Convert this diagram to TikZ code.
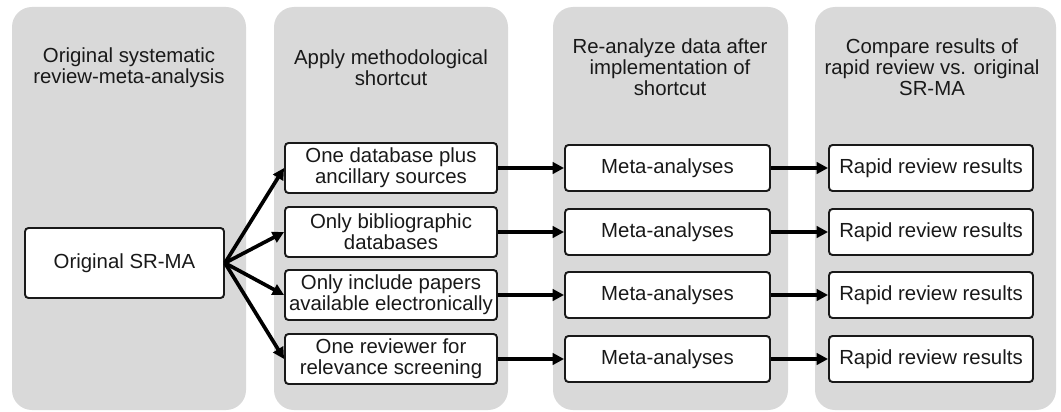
\documentclass[tikz,border=0pt]{standalone}
\usepackage{fontspec}
\setmainfont{Liberation Sans}
\usetikzlibrary{arrows.meta,positioning}
\definecolor{panelgray}{HTML}{D9D9D9}

\begin{document}
\begin{tikzpicture}[x=0.02cm, y=-0.02cm,
	panel/.style={fill=panelgray, draw=none, rounded corners=0.4cm},
	head/.style={align=center, font=\fontsize{11.6}{11.8}\selectfont, text=black!90},
	box/.style={draw=black!90, line width=1.1pt, fill=white, rounded corners=2pt,
		align=center, inner sep=0pt, font=\fontsize{11.6}{11.8}\selectfont, text=black!90},
	short/.style={box, minimum width=4.24cm, minimum height=1cm},
	meta/.style={box, minimum width=4.1cm, minimum height=0.92cm},
	arr/.style={line width=2.1pt, -{Triangle[length=6.5pt,width=6.5pt]}}]
	\useasboundingbox (0,0) rectangle (1061,412);
	% background panels
	\fill[panel] (12,7) rectangle (246,410);
	\fill[panel] (274,7) rectangle (508,410);
	\fill[panel] (553,7) rectangle (788,410);
	\fill[panel] (815,7) rectangle (1056,410);
	% headings
	\node[head] (h1) at (129,68) {Original systematic\\review-meta-analysis};
	\node[head] (h2) at (391,68) {Apply methodological\\shortcut};
	\node[head] (h3) at (670,67) {Re-analyze data after\\implementation of\\shortcut};
	\node[head] (h4) at (932,67) {Compare results of\\rapid review vs. original\\SR-MA};
	% original
	\node[box, minimum width=3.98cm, minimum height=1.4cm] (srma) at (124.5,263) {Original SR-MA};
	% shortcuts
	\node[short] (s1) at (391,168) {One database plus\\ancillary sources};
	\node[short] (s2) at (391,232) {Only bibliographic\\databases};
	\node[short] (s3) at (391,295) {Only include papers\\available electronically};
	\node[short] (s4) at (391,359) {One reviewer for\\relevance screening};
	% meta-analyses
	\node[meta] (m1) at (667.5,168) {Meta-analyses};
	\node[meta] (m2) at (667.5,232) {Meta-analyses};
	\node[meta] (m3) at (667.5,295) {Meta-analyses};
	\node[meta] (m4) at (667.5,359) {Meta-analyses};
	% results
	\node[meta, minimum width=4.08cm] (r1) at (931,168) {Rapid review results};
	\node[meta, minimum width=4.08cm] (r2) at (931,232) {Rapid review results};
	\node[meta, minimum width=4.08cm] (r3) at (931,295) {Rapid review results};
	\node[meta, minimum width=4.08cm] (r4) at (931,359) {Rapid review results};
	% arrows
	\draw[arr] (srma.east) to (s1.west);
	\draw[arr] (srma.east) to (s2.west);
	\draw[arr] (srma.east) to (s3.west);
	\draw[arr] (srma.east) to (s4.west);
	\draw[arr] (s1) to (m1);
	\draw[arr] (s2) to (m2);
	\draw[arr] (s3) to (m3);
	\draw[arr] (s4) to (m4);
	\draw[arr] (m1) to (r1);
	\draw[arr] (m2) to (r2);
	\draw[arr] (m3) to (r3);
	\draw[arr] (m4) to (r4);
\end{tikzpicture}
\end{document}
